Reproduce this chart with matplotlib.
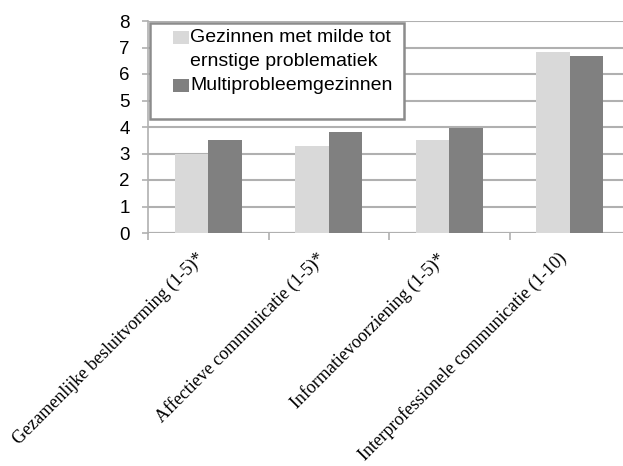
import numpy as np
import matplotlib.pyplot as plt
from matplotlib.patches import Rectangle

categories = [
    "Gezamenlijke besluitvorming (1-5)*",
    "Affectieve communicatie (1-5)*",
    "Informatievoorziening (1-5)*",
    "Interprofessionele communicatie (1-10)",
]
series_names = ["Gezinnen met milde tot\nernstige problematiek", "Multiprobleemgezinnen"]
mild_values = [3.0, 3.3, 3.5, 6.83]
multi_values = [3.52, 3.82, 3.97, 6.67]
y_ticks = [0, 1, 2, 3, 4, 5, 6, 7, 8]

light = "#d9d9d9"
dark = "#808080"
grid_col = "#b0b0b0"

W, H = 623, 466
fig = plt.figure(figsize=(W / 100, H / 100), dpi=100)
ax = fig.add_axes([148 / W, 1 - 233 / H, 482 / W, 212 / H])

x = np.arange(len(categories))
bw = 0.28
ax.bar(x - bw / 2, mild_values, width=bw, color=light, zorder=2)
ax.bar(x + bw / 2, multi_values, width=bw, color=dark, zorder=2)

ax.set_xlim(-0.5, len(categories) - 0.5)
ax.set_ylim(0, 8)
ax.set_yticks(y_ticks)
ax.set_yticklabels([str(v) for v in y_ticks], fontsize=13.5, family="Liberation Sans")
ax.yaxis.grid(True, color=grid_col, linewidth=1.5, zorder=0)
ax.set_axisbelow(True)

for side in ["top", "right", "bottom"]:
    ax.spines[side].set_visible(False)
ax.spines["left"].set_color(grid_col)
ax.spines["left"].set_linewidth(1.2)
ax.axhline(0, color=grid_col, linewidth=1.5, zorder=1)

ax.tick_params(axis="y", length=4, color=grid_col, width=1.2, pad=9)
ax.set_xticks(x)
ax.set_xticklabels(categories, rotation=45, ha="right", va="top",
                   family="Liberation Serif", fontsize=13)
ax.tick_params(axis="x", which="major", length=0, pad=12)
ax.set_xticks(np.arange(len(categories) + 1) - 0.5, minor=True)
ax.tick_params(axis="x", which="minor", length=5, color=grid_col, width=1.2)

# legend box, drawn by hand like the Excel one
def fx(px):
    return px / W

def fy(py):
    return 1 - py / H

fig.patches.append(Rectangle((fx(150), fy(119)), fx(404) - fx(150), fy(23) - fy(119),
                             transform=fig.transFigure, facecolor="white",
                             edgecolor="#8c8c8c", linewidth=1.8, zorder=5))
fig.patches.append(Rectangle((fx(173), fy(44)), fx(189) - fx(173), fy(31) - fy(44),
                             transform=fig.transFigure, facecolor=light,
                             edgecolor="none", zorder=6))
fig.patches.append(Rectangle((fx(173), fy(92)), fx(189) - fx(173), fy(79) - fy(92),
                             transform=fig.transFigure, facecolor=dark,
                             edgecolor="none", zorder=6))
for i, line in enumerate(series_names[0].split("\n")):
    fig.text(fx(190), fy(38 + 23 * i), line, fontsize=14, family="Liberation Sans",
             va="center", ha="left", zorder=7)
fig.text(fx(190), fy(85), series_names[1], fontsize=14, family="Liberation Sans",
         va="center", ha="left", zorder=7)

fig.savefig("out.png", dpi=100)
